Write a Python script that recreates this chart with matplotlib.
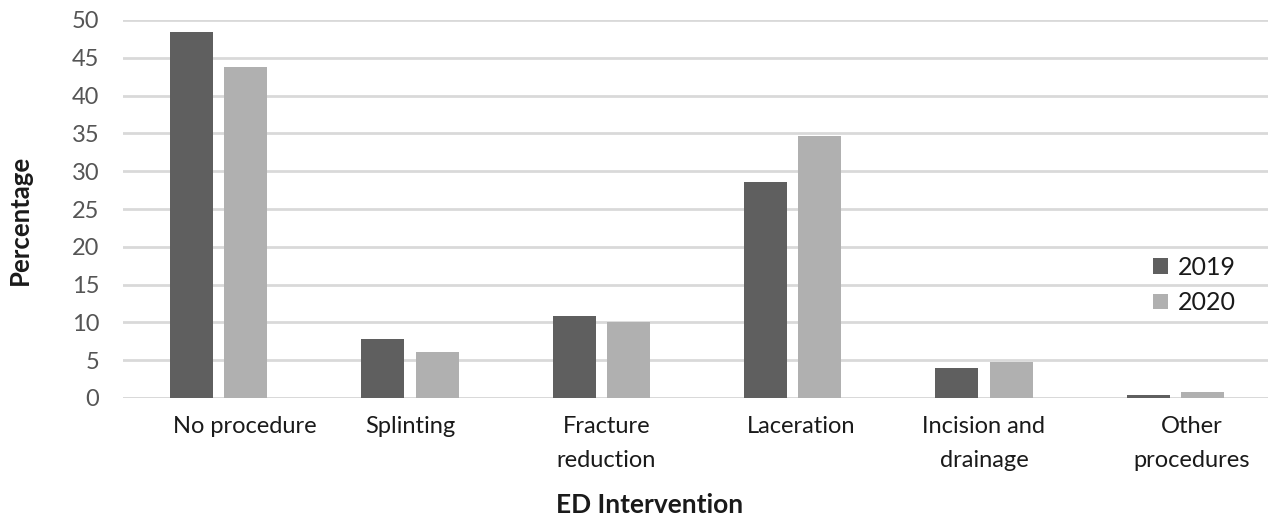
import matplotlib
matplotlib.use("Agg")
import matplotlib.pyplot as plt
import matplotlib.transforms as mtransforms
import numpy as np

categories = ["No procedure", "Splinting", "Fracture\nreduction", "Laceration",
              "Incision and\ndrainage", "Other\nprocedures"]
series_names = ["2019", "2020"]
values_2019 = [48.4, 7.8, 10.8, 28.6, 4.0, 0.4]
values_2020 = [43.8, 6.1, 10.0, 34.7, 4.8, 0.8]
yticks = [0, 5, 10, 15, 20, 25, 30, 35, 40, 45, 50]

plt.rcParams['font.family'] = ['Lato', 'DejaVu Sans']

fig = plt.figure(figsize=(12.68, 5.17), dpi=100)
ax = fig.add_axes([123/1268, 1-398/517, (1271-123)/1268, (398-20)/517])

x = np.arange(len(categories))
w = 0.225
off = 0.1425
colors = ["#5f5f5f", "#b0b0b0"]
ax.bar(x - off, values_2019, w, color=colors[0], label=series_names[0], zorder=3)
ax.bar(x + off, values_2020, w, color=colors[1], label=series_names[1], zorder=3)

ax.set_xlim(-0.5, len(categories) - 0.5)
ax.set_ylim(0, 50)
ax.set_yticks(yticks)
ax.yaxis.grid(True, color="#d9d9d9", linewidth=2, zorder=0)
ax.set_axisbelow(True)
for s in ax.spines.values():
    s.set_visible(False)
ax.axhline(0, color="#d9d9d9", linewidth=2, zorder=1)
ax.tick_params(axis='both', length=0, labelsize=17)
ax.tick_params(axis='y', pad=17)
ax.tick_params(axis='x', pad=13)
ax.set_xticks(x)
ax.set_xticklabels(categories)
label_shift_px = [26, 0, 5, 8, 0, 16]
for t, dx in zip(ax.get_xticklabels(), label_shift_px):
    t.set_linespacing(1.75)
    t.set_color("#1a1a1a")
    t.set_transform(t.get_transform() + mtransforms.ScaledTranslation(dx / 100, 0, fig.dpi_scale_trans))
for t in ax.get_yticklabels():
    t.set_color("#555555")

fig.text(20/1268, 1-220/517, "Percentage", rotation=90, ha='center', va='center',
         fontsize=18.5, fontweight='bold', color="#1a1a1a")
fig.text(650/1268, 1-505/517, "ED Intervention", ha='center', va='center',
         fontsize=19, fontweight='bold', color="#1a1a1a")

leg = fig.legend(loc='center left', bbox_to_anchor=(1130/1268, 1-285/517), frameon=False,
                 fontsize=18, handlelength=0.6, handleheight=0.6, handletextpad=0.4,
                 labelspacing=0.5)
for t in leg.get_texts():
    t.set_color("#1a1a1a")

fig.savefig("out.png", dpi=100)
